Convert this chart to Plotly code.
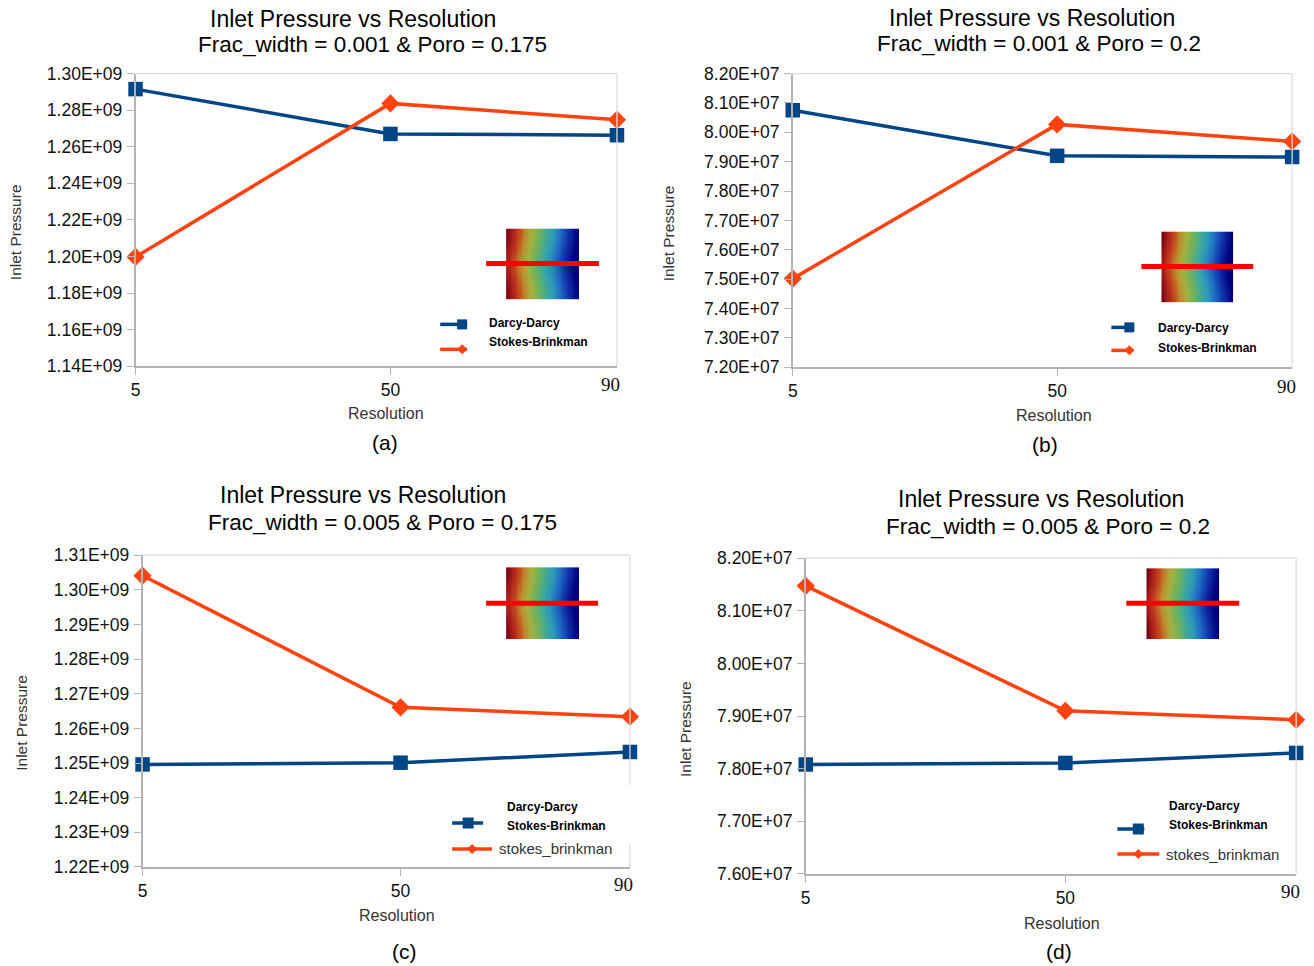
import numpy as np
import plotly.graph_objects as go

W, H = 1314, 966

# ---- data ----------------------------------------------------------------
resolution = [5, 50, 90]

darcy_a = [1.2915e9, 1.2670e9, 1.2663e9]
stokes_a = [1.1998e9, 1.2837e9, 1.2747e9]

darcy_b = [8.075e7, 7.920e7, 7.916e7]
stokes_b = [7.502e7, 8.027e7, 7.969e7]

darcy_c = [1.2496e9, 1.2501e9, 1.2532e9]
stokes_c = [1.3041e9, 1.2661e9, 1.2634e9]

darcy_d = [7.808e7, 7.811e7, 7.830e7]
stokes_d = [8.1475e7, 7.910e7, 7.893e7]

yticks_a = [1.14e9, 1.16e9, 1.18e9, 1.20e9, 1.22e9, 1.24e9, 1.26e9, 1.28e9, 1.30e9]
ylabels_a = ["1.14E+09", "1.16E+09", "1.18E+09", "1.20E+09", "1.22E+09",
             "1.24E+09", "1.26E+09", "1.28E+09", "1.30E+09"]
yticks_b = [7.2e7, 7.3e7, 7.4e7, 7.5e7, 7.6e7, 7.7e7, 7.8e7, 7.9e7, 8.0e7, 8.1e7, 8.2e7]
ylabels_b = ["7.20E+07", "7.30E+07", "7.40E+07", "7.50E+07", "7.60E+07", "7.70E+07",
             "7.80E+07", "7.90E+07", "8.00E+07", "8.10E+07", "8.20E+07"]
yticks_c = [1.22e9, 1.23e9, 1.24e9, 1.25e9, 1.26e9, 1.27e9, 1.28e9, 1.29e9, 1.30e9, 1.31e9]
ylabels_c = ["1.22E+09", "1.23E+09", "1.24E+09", "1.25E+09", "1.26E+09",
             "1.27E+09", "1.28E+09", "1.29E+09", "1.30E+09", "1.31E+09"]
yticks_d = [7.6e7, 7.7e7, 7.8e7, 7.9e7, 8.0e7, 8.1e7, 8.2e7]
ylabels_d = ["7.60E+07", "7.70E+07", "7.80E+07", "7.90E+07", "8.00E+07", "8.10E+07", "8.20E+07"]

xtick_labels = ["5", "50", "90"]

title_line1 = "Inlet Pressure vs Resolution"
subtitles = ["Frac_width = 0.001 & Poro = 0.175", "Frac_width = 0.001 & Poro = 0.2",
             "Frac_width = 0.005 & Poro = 0.175", "Frac_width = 0.005 & Poro = 0.2"]
captions = ["(a)", "(b)", "(c)", "(d)"]

BLUE = "#004586"
ORANGE = "#ff420e"
AXIS_GREY = "#b3b3b3"
FRAME_GREY = "#dcdcdc"
FONT = "Liberation Sans"


def px(x):
    """Horizontal page position (pixels) -> paper fraction."""
    return ((x - 4.3) / 0.9974) / W


def py(y):
    """Vertical page position (pixels from top) -> paper fraction."""
    return 1 - ((y - 8.4) / 0.98) / H


# panel geometry in pixels
panels = [
    dict(x0=135, x1=617, y0=72, y1=365, darcy=darcy_a, stokes=stokes_a,
         yt=yticks_a, yl=ylabels_a,
         t1=(353, 17), t2=(372, 43), x90_y=383, res=(386, 412), cap=(385, 441),
         ylab=(15, 231),
         inset=dict(sx0=506, sx1=579, sy0=227, sy1=298, lx0=486, lx1=599, ly=262),
         legend=dict(style="ab", lx0=440, lx1=467, ly_d=323, ly_s=348, mx=462,
                     tx=487, ty_d=322, ty_s=341)),
    dict(x0=793, x1=1293, y0=72, y1=366, darcy=darcy_b, stokes=stokes_b,
         yt=yticks_b, yl=ylabels_b,
         t1=(1033, 16), t2=(1040, 42), x90_y=385, res=(1055, 414), cap=(1046, 443),
         ylab=(669, 232),
         inset=dict(sx0=1162, sx1=1234, sy0=230, sy1=301, lx0=1142, lx1=1254, ly=265),
         legend=dict(style="ab", lx0=1112, lx1=1134, ly_d=326, ly_s=349, mx=1130,
                     tx=1157, ty_d=327, ty_s=347)),
    dict(x0=142, x1=630, y0=554, y1=866, darcy=darcy_c, stokes=stokes_c,
         yt=yticks_c, yl=ylabels_c,
         t1=(363, 494), t2=(382, 521), x90_y=884, res=(397, 915), cap=(404, 951),
         ylab=(20, 722),
         inset=dict(sx0=506, sx1=579, sy0=566, sy1=638, lx0=486, lx1=598, ly=602),
         legend=dict(style="cd", lx0=452, lx1=483, ly_d=822, lx1s=492, ly_s=848, mx=468,
                     mxs=472, tx=505, ty_d=806, ty_s=825, tx3=497, ty3=848,
                     box=(445, 784, 633, 843))),
    dict(x0=806, x1=1297, y0=557, y1=873, darcy=darcy_d, stokes=stokes_d,
         yt=yticks_d, yl=ylabels_d,
         t1=(1042, 498), t2=(1049, 525), x90_y=891, res=(1063, 923), cap=(1060, 951),
         ylab=(685, 728),
         inset=dict(sx0=1147, sx1=1220, sy0=567, sy1=638, lx0=1127, lx1=1240, ly=602),
         legend=dict(style="cd", lx0=1118, lx1=1145, ly_d=828, lx1s=1160, ly_s=853,
                     mx=1139, mxs=1139, tx=1168, ty_d=805, ty_s=824, tx3=1165, ty3=854,
                     box=None)),
]

fig = go.Figure()
annotations = []
shapes = []

# colour map used for the small flow-field thumbnails
field_scale = [[0.0, "#6a0010"], [0.08, "#a81a1a"], [0.18, "#c4461e"], [0.27, "#bc8e2e"],
               [0.36, "#a4b040"], [0.46, "#70b25a"], [0.56, "#42aa94"], [0.66, "#2c98ba"],
               [0.77, "#1e66c2"], [0.88, "#0e2ea8"], [1.0, "#00007a"]]
gx = np.linspace(0, 1, 60)
gy = np.linspace(0, 1, 60)
GX, GY = np.meshgrid(gx, gy)
field = GX + 0.07 * np.exp(-((GY - 0.5) / 0.28) ** 2)

for i, p in enumerate(panels):
    n = i + 1
    xa = "x" if n == 1 else f"x{n}"
    ya = "y" if n == 1 else f"y{n}"
    xkey = "xaxis" if n == 1 else f"xaxis{n}"
    ykey = "yaxis" if n == 1 else f"yaxis{n}"

    fig.add_trace(go.Scatter(
        x=resolution, y=p["darcy"], mode="lines+markers", xaxis=xa, yaxis=ya,
        line=dict(color=BLUE, width=3.5),
        marker=dict(symbol="square", size=14.5, color=BLUE),
        cliponaxis=False, showlegend=False))
    fig.add_trace(go.Scatter(
        x=resolution, y=p["stokes"], mode="lines+markers", xaxis=xa, yaxis=ya,
        line=dict(color=ORANGE, width=3.5),
        marker=dict(symbol="diamond", size=14, color=ORANGE),
        cliponaxis=False, showlegend=False))

    fig.layout[xkey] = dict(
        domain=[px(p["x0"]), px(p["x1"])], range=[5, 90], anchor=ya,
        tickvals=resolution[:2], ticktext=xtick_labels[:2],
        ticks="outside", ticklen=7, tickcolor=AXIS_GREY, tickwidth=1.2,
        showline=True, linecolor=AXIS_GREY, linewidth=1.5,
        showgrid=False, zeroline=False, fixedrange=True,
        tickfont=dict(family=FONT, size=17.5, color="#111111"),
        ticklabelstandoff=0)
    fig.layout[ykey] = dict(
        domain=[py(p["y1"]), py(p["y0"])], range=[p["yt"][0], p["yt"][-1]], anchor=xa,
        tickvals=p["yt"], ticktext=p["yl"],
        ticks="outside", ticklen=7, tickcolor=AXIS_GREY, tickwidth=1.2,
        showline=True, linecolor=AXIS_GREY, linewidth=1.5,
        showgrid=False, zeroline=False, fixedrange=True,
        tickfont=dict(family=FONT, size=17.5, color="#111111"),
        ticklabelstandoff=1)

    # top and right frame lines
    shapes.append(dict(type="line", xref=f"{xa} domain", yref=f"{ya} domain",
                       x0=0, x1=1, y0=1, y1=1, line=dict(color=FRAME_GREY, width=1.3)))
    shapes.append(dict(type="line", xref=f"{xa} domain", yref=f"{ya} domain",
                       x0=1, x1=1, y0=0, y1=1, line=dict(color=FRAME_GREY, width=1.3)))

    # titles
    annotations.append(dict(text=title_line1, x=px(p["t1"][0]), y=py(p["t1"][1]),
                            xref="paper", yref="paper", showarrow=False,
                            xanchor="center", yanchor="middle",
                            font=dict(family=FONT, size=23, color="#000000")))
    annotations.append(dict(text=subtitles[i], x=px(p["t2"][0]), y=py(p["t2"][1]),
                            xref="paper", yref="paper", showarrow=False,
                            xanchor="center", yanchor="middle",
                            font=dict(family=FONT, size=22.5, color="#000000")))
    # last resolution label
    annotations.append(dict(text=xtick_labels[2], x=resolution[2], y=py(p["x90_y"]),
                            xref=xa, yref="paper", showarrow=False,
                            xanchor="center", yanchor="middle", xshift=-6,
                            font=dict(family="Liberation Serif", size=19, color="#111111")))
    # axis titles
    annotations.append(dict(text="Resolution", x=px(p["res"][0]), y=py(p["res"][1]),
                            xref="paper", yref="paper", showarrow=False,
                            xanchor="center", yanchor="middle",
                            font=dict(family=FONT, size=16, color="#333333")))
    annotations.append(dict(text="Inlet Pressure", x=px(p["ylab"][0]), y=py(p["ylab"][1]),
                            xref="paper", yref="paper", showarrow=False, textangle=-90,
                            xanchor="center", yanchor="middle",
                            font=dict(family=FONT, size=15.5, color="#333333")))
    annotations.append(dict(text=captions[i], x=px(p["cap"][0]), y=py(p["cap"][1]),
                            xref="paper", yref="paper", showarrow=False,
                            xanchor="center", yanchor="middle",
                            font=dict(family=FONT, size=21, color="#000000")))

    # flow-field thumbnail
    ins = p["inset"]
    hn = n + 4
    fig.add_trace(go.Heatmap(z=field, x=gx, y=gy, colorscale=field_scale,
                             zmin=0, zmax=1.0, showscale=False, hoverinfo="skip",
                             xaxis=f"x{hn}", yaxis=f"y{hn}"))
    fig.layout[f"xaxis{hn}"] = dict(domain=[px(ins["sx0"]), px(ins["sx1"])], anchor=f"y{hn}",
                                    visible=False, range=[-0.008, 1.008], fixedrange=True)
    fig.layout[f"yaxis{hn}"] = dict(domain=[py(ins["sy1"]), py(ins["sy0"])], anchor=f"x{hn}",
                                    visible=False, range=[-0.008, 1.008], fixedrange=True)
    shapes.append(dict(type="line", xref="paper", yref="paper",
                       x0=px(ins["lx0"]), x1=px(ins["lx1"]), y0=py(ins["ly"]), y1=py(ins["ly"]),
                       line=dict(color="#ff0000", width=5), layer="above"))

    # legend
    lg = p["legend"]
    if lg.get("box"):
        bx0, by0, bx1, by1 = lg["box"]
        shapes.append(dict(type="rect", xref="paper", yref="paper",
                           x0=px(bx0), x1=px(bx1), y0=py(by1), y1=py(by0),
                           fillcolor="white", line=dict(width=0), layer="above"))
    shapes.append(dict(type="line", xref="paper", yref="paper",
                       x0=px(lg["lx0"]), x1=px(lg["lx1"]), y0=py(lg["ly_d"]), y1=py(lg["ly_d"]),
                       line=dict(color=BLUE, width=3.5), layer="above"))
    msz = 5 if lg["style"] == "ab" else 5.5
    mx = lg["mx"]
    shapes.append(dict(type="rect", xref="paper", yref="paper",
                       x0=px(mx - msz), x1=px(mx + msz), y0=py(lg["ly_d"] + msz),
                       y1=py(lg["ly_d"] - msz), fillcolor=BLUE, line=dict(width=0),
                       layer="above"))
    lx1s = lg.get("lx1s", lg["lx1"])
    shapes.append(dict(type="line", xref="paper", yref="paper",
                       x0=px(lg["lx0"]), x1=px(lx1s), y0=py(lg["ly_s"]), y1=py(lg["ly_s"]),
                       line=dict(color=ORANGE, width=3.5), layer="above"))
    mxs = lg.get("mxs", mx)
    d = 5
    ys = lg["ly_s"]
    path = (f"M {px(mxs - d)},{py(ys)} L {px(mxs)},{py(ys - d)} "
            f"L {px(mxs + d)},{py(ys)} L {px(mxs)},{py(ys + d)} Z")
    shapes.append(dict(type="path", xref="paper", yref="paper", path=path,
                       fillcolor=ORANGE, line=dict(width=0), layer="above"))
    for txt, ty in (("Darcy-Darcy", lg["ty_d"]), ("Stokes-Brinkman", lg["ty_s"])):
        annotations.append(dict(text=f"<b>{txt}</b>", x=px(lg["tx"]), y=py(ty),
                                xref="paper", yref="paper", showarrow=False,
                                xanchor="left", yanchor="middle",
                                font=dict(family=FONT, size=12, color="#000000")))
    if lg["style"] == "cd":
        annotations.append(dict(text="stokes_brinkman", x=px(lg["tx3"]), y=py(lg["ty3"]),
                                xref="paper", yref="paper", showarrow=False,
                                xanchor="left", yanchor="middle",
                                font=dict(family=FONT, size=15, color="#333333")))

fig.update_layout(
    width=W, height=H, autosize=False,
    margin=dict(l=0, r=0, t=0, b=0),
    paper_bgcolor="white", plot_bgcolor="rgba(0,0,0,0)",
    showlegend=False,
    annotations=annotations, shapes=shapes,
)

fig.write_html("out.html", config=dict(displayModeBar=False))
